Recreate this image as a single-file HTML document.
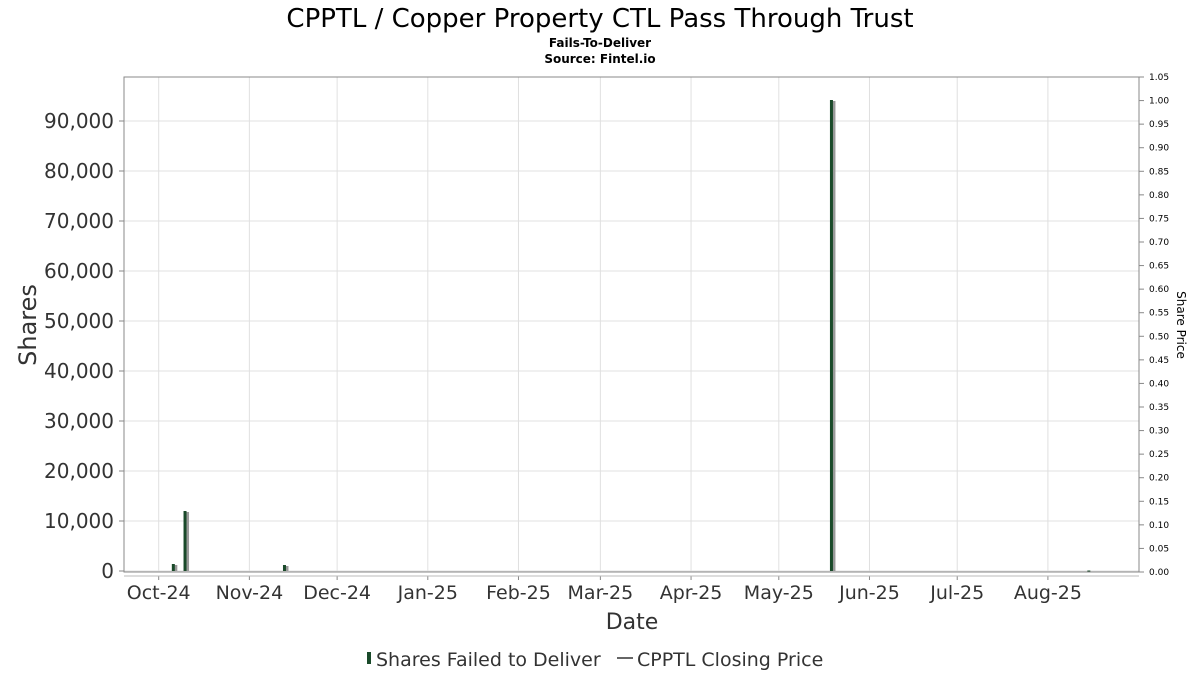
<!DOCTYPE html>
<html><head><meta charset="utf-8"><style>
body{margin:0;background:#fff;font-family:"DejaVu Sans","Liberation Sans",sans-serif;}
svg text{font-family:"DejaVu Sans","Liberation Sans",sans-serif;}
</style></head><body>
<svg id="chart" width="1200" height="675" xmlns="http://www.w3.org/2000/svg">
<text x="600" y="27" text-anchor="middle" font-size="26" fill="#000">CPPTL / Copper Property CTL Pass Through Trust</text>
<text x="600" y="47" text-anchor="middle" font-size="12" font-weight="bold" fill="#000">Fails-To-Deliver</text>
<text x="600" y="63" text-anchor="middle" font-size="12" font-weight="bold" fill="#000">Source: Fintel.io</text>
<g id="grid"></g>
<g id="bars"></g>
<rect x="124" y="77" width="1015" height="495" fill="none" stroke="#888" stroke-width="1"/>
<g id="yleft"></g>
<g id="yright"></g>
<g id="xaxis"></g>
<text transform="translate(36,325) rotate(-90)" text-anchor="middle" font-size="24" fill="#333">Shares</text>
<text transform="translate(1177,325) rotate(90)" text-anchor="middle" font-size="12" fill="#000">Share Price</text>
<text x="632" y="629" text-anchor="middle" font-size="22" fill="#333">Date</text>
<g>
<rect x="367" y="652" width="4" height="12" fill="#1a4a2a"/>
<text x="376" y="666" font-size="19" fill="#333">Shares Failed to Deliver</text>
<line x1="617" y1="658" x2="633" y2="658" stroke="#333" stroke-width="1.5"/>
<text x="637" y="666" font-size="19" fill="#333">CPPTL Closing Price</text>
</g>
</svg>
<script>
const months = ["Oct-24","Nov-24","Dec-24","Jan-25","Feb-25","Mar-25","Apr-25","May-25","Jun-25","Jul-25","Aug-25"];
const monthDates = ["2024-10-01","2024-11-01","2024-12-01","2025-01-01","2025-02-01","2025-03-01","2025-04-01","2025-05-01","2025-06-01","2025-07-01","2025-08-01"];
const ftdDates = ["2024-10-06","2024-10-10","2024-11-13","2025-05-19","2025-08-15"];
const ftdValues = [1400, 12000, 1200, 94200, 100];
const leftTicks = [0,10000,20000,30000,40000,50000,60000,70000,80000,90000];
const rightTicks = [0,0.05,0.1,0.15,0.2,0.25,0.3,0.35,0.4,0.45,0.5,0.55,0.6,0.65,0.7,0.75,0.8,0.85,0.9,0.95,1.0,1.05];
const NS="http://www.w3.org/2000/svg";
const t0 = Date.parse("2024-10-01");
function xs(d){return 158.7 + (Date.parse(d)-t0)/86400000*2.925;}
function yl(v){return 571 - v*0.005;}
function yr(v){return 572 - v*(495/1.05);}
function mk(tag,attrs,parent){const e=document.createElementNS(NS,tag);for(const k in attrs)e.setAttribute(k,attrs[k]);parent.appendChild(e);return e;}
const grid=document.getElementById('grid'),bars=document.getElementById('bars');
const yL=document.getElementById('yleft'),yR=document.getElementById('yright'),xA=document.getElementById('xaxis');
leftTicks.forEach(v=>{
  const y=yl(v);
  const g=mk('line',{x1:124,x2:1139,y1:y,y2:y,stroke:'#e0e0e0','stroke-width':1},grid);
  
  
  const tk=mk('line',{x1:119,x2:124,y1:y,y2:y,stroke:'#888'},yL);
  
  
  const t=mk('text',{x:114,y:y+7,'text-anchor':'end','font-size':20,fill:'#333'},yL);
  t.textContent=v.toLocaleString('en-US');
  
  
});
rightTicks.forEach(v=>{
  const y=yr(v);
  const tk=mk('line',{x1:1139,x2:1144,y1:y,y2:y,stroke:'#888'},yR);
  
  
  const t=mk('text',{x:1149,y:y+3,'font-size':9,fill:'#000'},yR);
  t.textContent=v.toFixed(2);
  
  
});
months.forEach((m,i)=>{
  const x=xs(monthDates[i]);
  const g=mk('line',{x1:x,x2:x,y1:77,y2:572,stroke:'#e0e0e0','stroke-width':1},grid);
  
  
  const tk=mk('line',{x1:x,x2:x,y1:576,y2:580,stroke:'#888'},xA);
  
  
  const t=mk('text',{x:x,y:599,'text-anchor':'middle','font-size':19,fill:'#333'},xA);
  t.textContent=m;
  
  
});
mk('line',{x1:124,x2:1139,y1:576,y2:576,stroke:'#bbb'},xA);
ftdValues.forEach((v,i)=>{
  const x=xs(ftdDates[i]),y=yl(v),h=Math.max(571-y,1);
  const s=mk('rect',{x:x+1,y:y+1,width:3,height:h-1,fill:'#999'},bars);
  
  
  const b=mk('rect',{x:x-1.5,y:y,width:3,height:h,fill:'#1a4a2a'},bars);
  
  
});
</script>
</body></html>
